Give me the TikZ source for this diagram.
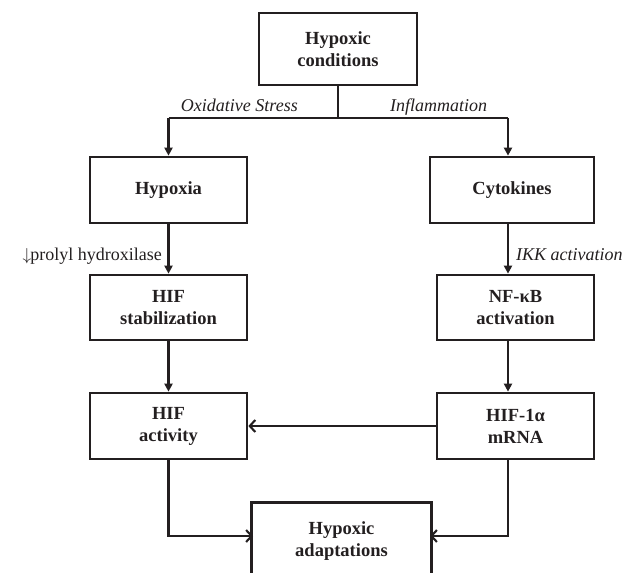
\documentclass[tikz,border=0pt]{standalone}
\usepackage{fontspec}
\setmainfont{Liberation Serif}
\usetikzlibrary{arrows.meta}
\definecolor{ink}{RGB}{35,31,32}
\tikzset{
  px/.style={x=1pt,y=-1pt},
  boxnode/.style={draw=ink, line width=2.7pt, inner sep=0pt, align=center,
    font=\fontsize{18.5}{22}\selectfont\bfseries, text=ink},
  lbl/.style={inner sep=0pt, font=\fontsize{18}{21.5}\selectfont\itshape, text=ink},
  lblr/.style={inner sep=0pt, font=\fontsize{18}{21.5}\selectfont, text=ink},
  conn/.style={draw=ink, line width=2.1pt},
  darr/.style={conn, -{Triangle[width=8pt,length=8pt]}},
  oarr/.style={conn, -{Straight Barb[length=5.5pt,width=12pt,line width=2.1pt]}},
}
\begin{document}
\begin{tikzpicture}[px]
\useasboundingbox (0,0) rectangle (628,572);
% boxes
\node[boxnode, minimum width=158pt, minimum height=72pt] (top) at (338,49) {Hypoxic\\conditions};
\node[boxnode, minimum width=157pt, minimum height=66pt] (hypoxia) at (168.5,190) {Hypoxia};
\node[boxnode, minimum width=164pt, minimum height=66pt] (cyto) at (512,190) {Cytokines};
\node[boxnode, minimum width=157pt, minimum height=65pt] (hifstab) at (168.5,307.5) {HIF\\stabilization};
\node[boxnode, minimum width=157pt, minimum height=65pt] (nfkb) at (515.5,307.5) {NF-κB\\activation};
\node[boxnode, minimum width=157pt, minimum height=66pt] (hifact) at (168.5,426) {HIF\\activity};
\node[boxnode, minimum width=157pt, minimum height=66pt] (hif1a) at (515.5,426) {HIF-1α\\mRNA};
% open-bottom box (cut off by page edge)
\node[boxnode, draw=none, minimum width=177pt, minimum height=74pt] (adapt) at (341.5,541) {Hypoxic\\adaptations};
\draw[ink, line width=2.7pt] ([yshift=-6pt]adapt.south west) -- (adapt.north west) -- (adapt.north east) -- ([yshift=-6pt]adapt.south east);
% junction coordinates
\coordinate (jl) at (168.5,118);
\coordinate (jr) at (508,118);
\coordinate (aL) at (253,536);
\coordinate (aR) at (430,536);
% connectors
\draw[conn] (top.south) -- (top.south |- jl);
\draw[conn] (jl) -- (jr);
\draw[darr] (jl) -- (hypoxia.north);
\draw[darr] (jr) -- (jr |- cyto.north);
\draw[darr] (hypoxia.south) -- (hifstab.north);
\draw[darr] (hifstab.south) -- (hifact.north);
\draw[darr] (jr |- cyto.south) -- (jr |- nfkb.north);
\draw[darr] (jr |- nfkb.south) -- (jr |- hif1a.north);
\draw[oarr] (hif1a.west) -- (hifact.east);
\draw[oarr] (hifact.south) |- (aL);
\draw[oarr] (jr |- hif1a.south) |- (aR);
% labels
\node[lbl, anchor=base east] (l1) at (298,112) {Oxidative Stress};
\node[lbl, anchor=base west] (l2) at (390,112) {Inflammation};
\node[lblr, anchor=base east] (l3) at (162,260) {$\downarrow$\kern-1pt prolyl hydroxilase};
\node[lbl, anchor=base west] (l4) at (516,260) {IKK activation};
\end{tikzpicture}
\end{document}
